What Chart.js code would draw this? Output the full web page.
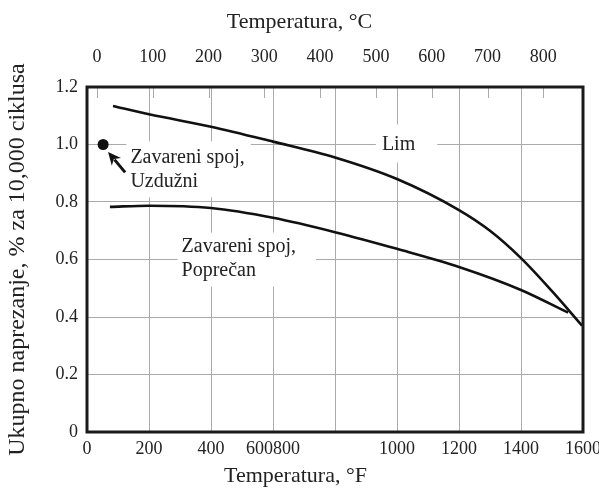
<!DOCTYPE html>
<html><head><meta charset="utf-8">
<script src="https://cdn.jsdelivr.net/npm/chart.js@4.4.0/dist/chart.umd.min.js"></script>
<style>html,body{margin:0;padding:0;background:#fff;}#wrap{width:599px;height:495px;}</style>
</head><body><div id="wrap"><canvas id="c" width="599" height="495"></canvas></div>
<script>
// ---- data (°F, total strain %) ----
const limF = [84, 200, 400, 600, 800, 1000, 1200, 1300, 1400, 1500, 1597];
const limStrain = [1.134, 1.105, 1.062, 1.01, 0.955, 0.88, 0.772, 0.70, 0.605, 0.49, 0.37];
const poprecanF = [74, 200, 400, 600, 800, 1000, 1200, 1400, 1552];
const poprecanStrain = [0.783, 0.787, 0.779, 0.745, 0.695, 0.637, 0.574, 0.494, 0.415];
const uzduzniF = [52];
const uzduzniStrain = [1.0];

const fTicks = [0, 200, 400, 600, 800, 1000, 1200, 1400, 1600];
const fTickLabels = ['0', '200', '400', '600800', '', '1000', '1200', '1400', '1600'];
const cTicks = [0, 100, 200, 300, 400, 500, 600, 700, 800];
const cTickLabels = ['0', '100', '200', '300', '400', '500', '600', '700', '800'];
const yTicks = [0, 0.2, 0.4, 0.6, 0.8, 1.0, 1.2];
const yTickLabels = ['0', '0.2', '0.4', '0.6', '0.8', '1.0', '1.2'];

const xTitle = 'Temperatura, °F';
const x2Title = 'Temperatura, °C';
const yTitle = 'Ukupno naprezanje, % za 10,000 ciklusa';

const noteTexts = [['Lim'], ['Zavareni spoj,', 'Uzdužni'], ['Zavareni spoj,', 'Poprečan']];
const noteAt = [[1005, 1.0], [140, 0.955], [305, 0.645]];
const arrowFrom = [123, 0.903];
const arrowTo = [68, 0.974];

const F2C = f => (f - 32) * 5 / 9;
const toPts = (xs, ys) => xs.map((x, i) => ({x: x, y: ys[i]}));

const SERIF = '"Liberation Serif", "Times New Roman", serif';
const TXT = '#222';

const deco = {
  id: 'deco',
  afterDatasetsDraw(chart) {
    const ctx = chart.ctx, xs = chart.scales.x, ys = chart.scales.y;
    ctx.save();
    ctx.font = '20px ' + SERIF;
    const aligns = ['center', 'left', 'left'];
    const pads = [[6, 22, 8, 6], [4, 6, 4, 4], [4, 20, 2, 4]]; // left,right,top,bottom
    const lh = 24;
    noteTexts.forEach((lines, i) => {
      const px = xs.getPixelForValue(noteAt[i][0]);
      const py = ys.getPixelForValue(noteAt[i][1]);
      const w = Math.max(...lines.map(l => ctx.measureText(l).width));
      const left = aligns[i] === 'center' ? px - w / 2 : px;
      const top = py - lh / 2;
      const h = lh * lines.length;
      const p = pads[i];
      ctx.fillStyle = '#fff';
      ctx.fillRect(left - p[0], top - p[2], w + p[0] + p[1], h + p[2] + p[3]);
      ctx.fillStyle = TXT;
      ctx.textAlign = aligns[i];
      ctx.textBaseline = 'middle';
      lines.forEach((l, k) => ctx.fillText(l, px, py + k * lh));
    });
    // arrow
    const x1 = xs.getPixelForValue(arrowFrom[0]), y1 = ys.getPixelForValue(arrowFrom[1]);
    const x2 = xs.getPixelForValue(arrowTo[0]), y2 = ys.getPixelForValue(arrowTo[1]);
    const ang = Math.atan2(y2 - y1, x2 - x1);
    const hl = 13, hw = 6;
    const bx = x2 - hl * Math.cos(ang), by = y2 - hl * Math.sin(ang);
    ctx.strokeStyle = '#111'; ctx.lineWidth = 3;
    ctx.beginPath(); ctx.moveTo(x1, y1); ctx.lineTo(bx + 3 * Math.cos(ang), by + 3 * Math.sin(ang)); ctx.stroke();
    ctx.fillStyle = '#111';
    ctx.beginPath();
    ctx.moveTo(x2, y2);
    ctx.lineTo(bx + hw * Math.sin(ang), by - hw * Math.cos(ang));
    ctx.lineTo(bx + 4 * Math.cos(ang), by + 4 * Math.sin(ang));
    ctx.lineTo(bx - hw * Math.sin(ang), by + hw * Math.cos(ang));
    ctx.closePath(); ctx.fill();
    ctx.restore();
  },
  afterDraw(chart) {
    const ctx = chart.ctx, a = chart.chartArea, top = chart.scales.x2;
    ctx.save();
    ctx.strokeStyle = '#aaa'; ctx.lineWidth = 1;
    top.ticks.forEach(t => {
      const x = Math.round(top.getPixelForValue(t.value)) + 0.5;
      ctx.beginPath(); ctx.moveTo(x, a.top); ctx.lineTo(x, a.top + 11); ctx.stroke();
    });
    ctx.strokeStyle = '#1a1a1a'; ctx.lineWidth = 3;
    ctx.strokeRect(a.left, a.top, a.right - a.left, a.bottom - a.top);
    // horizontal axis titles, centred on the page as in the original figure
    ctx.fillStyle = TXT;
    ctx.font = '22px ' + SERIF;
    ctx.textAlign = 'center';
    ctx.textBaseline = 'middle';
    const cx = chart.width / 2;
    ctx.fillText(x2Title, cx, chart.scales.x2.top + 22);
    ctx.fillText(xTitle, cx - 4, chart.scales.x.bottom - 19);
    ctx.restore();
  }
};

new Chart(document.getElementById('c'), {
  type: 'scatter',
  data: {
    datasets: [
      {label: 'Lim', data: toPts(limF, limStrain), showLine: true, borderColor: '#111', borderWidth: 2.6,
       pointRadius: 0, cubicInterpolationMode: 'monotone', fill: false},
      {label: 'Zavareni spoj, Poprečan', data: toPts(poprecanF, poprecanStrain), showLine: true, borderColor: '#111',
       borderWidth: 2.6, pointRadius: 0, cubicInterpolationMode: 'monotone', fill: false},
      {label: 'Zavareni spoj, Uzdužni', data: toPts(uzduzniF, uzduzniStrain), showLine: false,
       pointRadius: 5.5, pointBackgroundColor: '#111', pointBorderColor: '#111', pointBorderWidth: 0}
    ]
  },
  options: {
    responsive: false, animation: false, devicePixelRatio: 1,
    layout: {padding: {left: 0, right: 16, top: 0, bottom: 0}},
    plugins: {legend: {display: false}, tooltip: {enabled: false}},
    scales: {
      x: {
        type: 'linear', position: 'bottom', min: 0, max: 1600,
        afterBuildTicks: s => { s.ticks = fTicks.map(v => ({value: v})); },
        afterFit: s => { s.height = 63; s.paddingLeft = 0; s.paddingRight = 0; },
        grid: {color: '#aaa', lineWidth: 1, drawTicks: false},
        border: {display: false},
        ticks: {padding: 6, color: TXT, font: {family: SERIF, size: 18}, maxRotation: 0, autoSkip: false,
                callback: (v, i) => fTickLabels[i]},
        title: {display: false, text: xTitle}
      },
      x2: {
        type: 'linear', position: 'top', min: F2C(0), max: F2C(1600),
        afterBuildTicks: s => { s.ticks = cTicks.map(v => ({value: v})); },
        afterFit: s => { s.height = 87; s.paddingLeft = 0; s.paddingRight = 0; },
        grid: {display: false, drawTicks: false},
        border: {display: false},
        ticks: {padding: 19, color: TXT, font: {family: SERIF, size: 18}, maxRotation: 0, autoSkip: false,
                callback: (v, i) => cTickLabels[i]},
        title: {display: false, text: x2Title}
      },
      y: {
        type: 'linear', min: 0, max: 1.2,
        afterBuildTicks: s => { s.ticks = yTicks.map(v => ({value: v})); },
        afterFit: s => { s.width = 87; s.paddingTop = 0; s.paddingBottom = 0; },
        grid: {color: '#aaa', lineWidth: 1, drawTicks: false},
        border: {display: false},
        ticks: {padding: 9, color: TXT, font: {family: SERIF, size: 18},
                callback: (v, i) => yTickLabels[i]},
        title: {display: true, text: yTitle, color: TXT,
                font: {family: SERIF, size: 24}, padding: {top: 3, bottom: 0}}
      }
    }
  },
  plugins: [deco]
});
</script>
</body></html>
